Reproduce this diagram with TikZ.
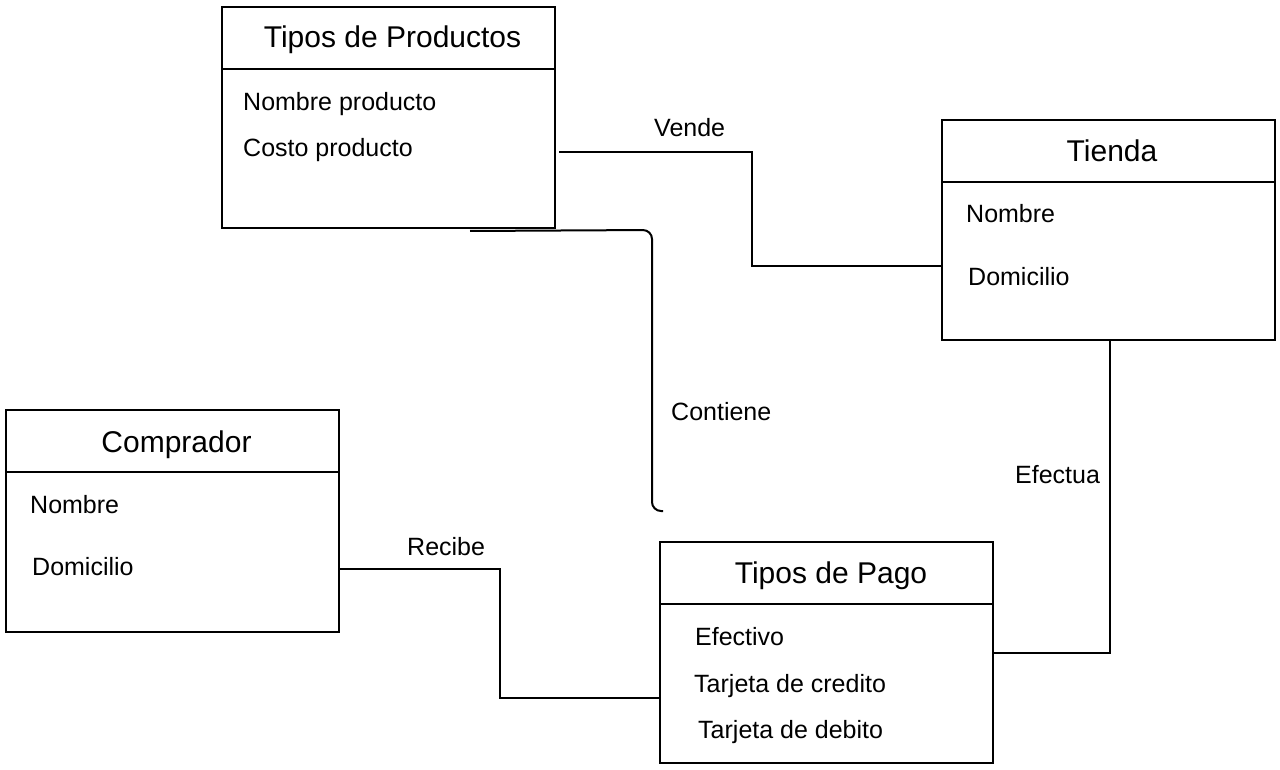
\documentclass[tikz,border=0pt]{standalone}
\usepackage{fontspec}
\setmainfont{Liberation Sans}
\begin{document}
\begin{tikzpicture}[x=1pt,y=-1pt,
  entity/.style={draw=black,line width=2pt,minimum width=333pt,inner sep=0pt},
  ttl/.style={anchor=base,inner sep=0pt,font=\fontsize{30}{35}\selectfont},
  attr/.style={anchor=base west,inner sep=0pt,font=\fontsize{25}{30}\selectfont},
  rel/.style={anchor=base west,inner sep=0pt,font=\fontsize{25}{30}\selectfont},
  conn/.style={draw=black,line width=2pt},
  thinconn/.style={draw=black,line width=1.2pt}]
\useasboundingbox (0,0) rectangle (1280,770);
% entities
\node[entity,minimum height=221pt] (tp) at (388.5,117.5) {};
\node[entity,minimum height=220pt] (ti) at (1108.5,230) {};
\node[entity,minimum height=222pt] (co) at (172.5,521) {};
\node[entity,minimum height=221pt] (pg) at (826.5,652.5) {};
% dividers
\draw[conn] (tp.west |- 0,69) -- (tp.east |- 0,69);
\draw[conn] (ti.west |- 0,182) -- (ti.east |- 0,182);
\draw[conn] (co.west |- 0,472) -- (co.east |- 0,472);
\draw[conn] (pg.west |- 0,604) -- (pg.east |- 0,604);
% titles
\node[ttl] (tpt) at (392.5,48) {Tipos de Productos};
\node[ttl] (tit) at (1112,162) {Tienda};
\node[ttl] (cot) at (176.5,452) {Comprador};
\node[ttl] (pgt) at (831,583) {Tipos de Pago};
% attributes
\node[attr] (tpa1) at (243,111) {Nombre producto};
\node[attr] (tpa2) at (243,157) {Costo producto};
\node[attr] (tia1) at (966,223) {Nombre};
\node[attr] (tia2) at (968,285) {Domicilio};
\node[attr] (coa1) at (30,513) {Nombre};
\node[attr] (coa2) at (32,575) {Domicilio};
\node[attr] (pga1) at (695,645) {Efectivo};
\node[attr] (pga2) at (694,692) {Tarjeta de credito};
\node[attr] (pga3) at (698,738) {Tarjeta de debito};
% connectors
\coordinate (cend) at (663,511);
\draw[conn] ([xshift=3pt]tp.east |- 0,152) -- (752,152) -- (752,266) -- (ti.west |- 0,266);
\draw[conn,rounded corners=9pt] ([yshift=-2pt]tp.south -| 470,0) -- (652,230) -- (652,511) -- (cend);
\draw[thinconn] (ti.south -| 1110,0) -- (1110,653) -- (pg.east |- 0,653);
\draw[conn] (co.east |- 0,569) -- (500,569) -- (500,698) -- ([xshift=2pt]pg.west |- 0,698);
% relation labels
\node[rel] (lv) at (654,137) {Vende};
\node[rel] (lc) at (671,420) {Contiene};
\node[rel] (le) at (1015,483) {Efectua};
\node[rel] (lr) at (407,555) {Recibe};
\end{tikzpicture}
\end{document}
